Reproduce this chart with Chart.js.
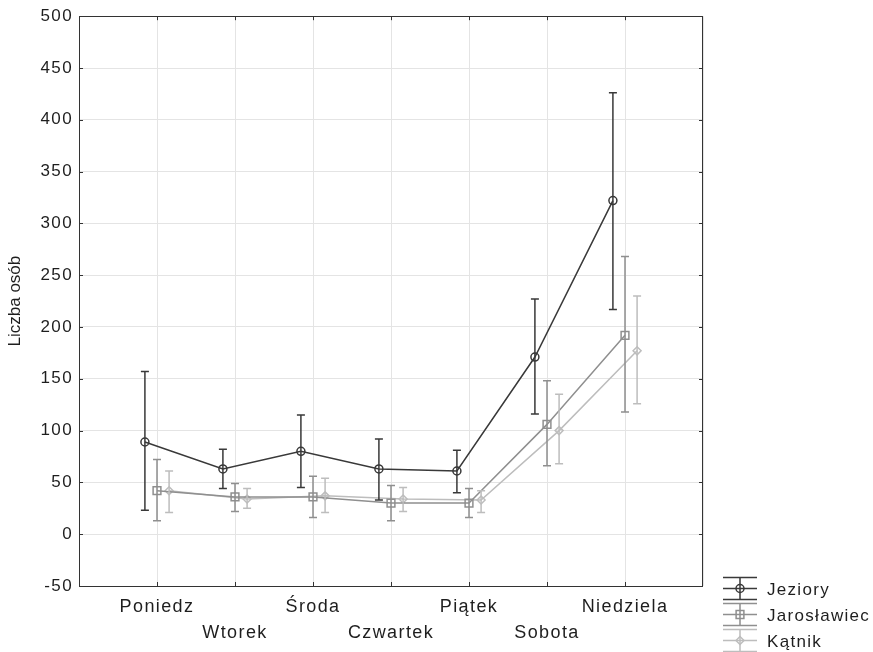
<!DOCTYPE html>
<html><head><meta charset="utf-8">
<script src="https://cdn.jsdelivr.net/npm/chart.js@4/dist/chart.umd.min.js"></script>
<style>html,body{margin:0;padding:0;background:#fff}</style>
</head><body>
<canvas id="c" width="873" height="652"></canvas>
<script>
// ---- data ----
const categories = ['Poniedz', 'Wtorek', 'Środa', 'Czwartek', 'Piątek', 'Sobota', 'Niedziela'];
const seriesNames = ['Jeziory', 'Jarosławiec', 'Kątnik'];

const jeziory      = [89, 63, 80, 63, 61, 171, 322];
const jezioryLow   = [23, 44, 45, 33, 40, 116, 217];
const jezioryHigh  = [157, 82, 115, 92, 81, 227, 426];

const jaroslawiec     = [42, 36, 36, 30, 30, 106, 192];
const jaroslawiecLow  = [13, 22, 16, 13, 16, 66, 118];
const jaroslawiecHigh = [72, 49, 56, 47, 44, 148, 268];

const katnik     = [42, 34, 37, 34, 33, 100, 177];
const katnikLow  = [21, 25, 21, 22, 21, 68, 126];
const katnikHigh = [61, 44, 54, 45, 42, 135, 230];

const yMin = -50, yMax = 500, yStep = 50;

// ---- styling ----
const FONT = "'Liberation Sans', Arial, sans-serif";
const SPACING = '1.4px';
const colors = ['#393939', '#8f8f8f', '#bdbdbd'];
const styles = ['circle', 'rect', 'rectRot'];
const radii = [4, 5.5, 4];
const offsets = [-0.155, 0, 0.155];

function pts(vals, off) { return vals.map((v, i) => ({x: i + 1 + off, y: v})); }

const lows = [jezioryLow, jaroslawiecLow, katnikLow];
const highs = [jezioryHigh, jaroslawiecHigh, katnikHigh];
const vals = [jeziory, jaroslawiec, katnik];

const datasets = vals.map((v, k) => ({
  label: seriesNames[k],
  data: pts(v, offsets[k]),
  errLow: pts(lows[k], offsets[k]),
  errHigh: pts(highs[k], offsets[k]),
  borderColor: colors[k],
  backgroundColor: 'rgba(0,0,0,0)',
  borderWidth: 1.5,
  pointStyle: styles[k],
  pointRadius: radii[k],
  pointBorderWidth: 1.5,
  pointBorderColor: colors[k],
  pointBackgroundColor: 'rgba(0,0,0,0)',
  tension: 0,
  fill: false
}));

const spacingPlugin = {
  id: 'spacing',
  beforeDraw(chart) { chart.ctx.letterSpacing = SPACING; }
};

const errorBars = {
  id: 'errorBars',
  afterDatasetsDraw(chart) {
    const ctx = chart.ctx, xs = chart.scales.x, ys = chart.scales.y;
    ctx.save();
    chart.data.datasets.forEach(ds => {
      ctx.strokeStyle = ds.borderColor;
      ctx.lineWidth = 1.5;
      ds.errLow.forEach((lo, i) => {
        const hi = ds.errHigh[i];
        const px = xs.getPixelForValue(lo.x);
        const y1 = ys.getPixelForValue(lo.y), y2 = ys.getPixelForValue(hi.y);
        ctx.beginPath();
        ctx.moveTo(px, y1); ctx.lineTo(px, y2);
        ctx.moveTo(px - 4, y1); ctx.lineTo(px + 4, y1);
        ctx.moveTo(px - 4, y2); ctx.lineTo(px + 4, y2);
        ctx.stroke();
      });
    });
    ctx.restore();
  }
};

function marker(ctx, style, x, y, r) {
  ctx.beginPath();
  if (style === 'circle') ctx.arc(x, y, r, 0, Math.PI * 2);
  else if (style === 'rect') { const s = r * Math.SQRT1_2; ctx.rect(x - s, y - s, 2 * s, 2 * s); }
  else { ctx.moveTo(x - r, y); ctx.lineTo(x, y - r); ctx.lineTo(x + r, y); ctx.lineTo(x, y + r); ctx.closePath(); }
  ctx.stroke();
}

const frameAndLegend = {
  id: 'frameAndLegend',
  afterDraw(chart) {
    const ctx = chart.ctx, a = chart.chartArea, xs = chart.scales.x, ys = chart.scales.y;
    ctx.save();
    ctx.strokeStyle = '#333';
    ctx.lineWidth = 1;
    ctx.strokeRect(Math.round(a.left) + 0.5, Math.round(a.top) + 0.5, Math.round(a.right - a.left) - 1, Math.round(a.bottom - a.top));
    ctx.beginPath();
    for (let i = 1; i <= categories.length; i++) {
      const px = Math.round(xs.getPixelForValue(i)) + 0.5;
      ctx.moveTo(px, a.bottom); ctx.lineTo(px, a.bottom - 4);
      ctx.moveTo(px, a.top); ctx.lineTo(px, a.top + 4);
    }
    for (let v = yMin; v <= yMax; v += yStep) {
      const py = Math.round(ys.getPixelForValue(v)) + 0.5;
      ctx.moveTo(a.left, py); ctx.lineTo(a.left + 4, py);
      ctx.moveTo(a.right, py); ctx.lineTo(a.right - 4, py);
    }
    ctx.stroke();

    // legend
    const x0 = a.right + 20, x1 = x0 + 34, xc = (x0 + x1) / 2;
    chart.data.datasets.forEach((ds, k) => {
      const cy = a.bottom + 2.5 + k * 26;
      ctx.strokeStyle = ds.borderColor;
      ctx.lineWidth = 1.5;
      ctx.beginPath();
      ctx.moveTo(x0, cy - 11); ctx.lineTo(x1, cy - 11);
      ctx.moveTo(x0, cy); ctx.lineTo(x1, cy);
      ctx.moveTo(x0, cy + 11); ctx.lineTo(x1, cy + 11);
      ctx.moveTo(xc, cy - 11); ctx.lineTo(xc, cy + 11);
      ctx.stroke();
      marker(ctx, styles[k], xc, cy, k === 1 ? 5.5 : 4);
      ctx.fillStyle = '#1e1e1e';
      ctx.font = '17px ' + FONT;
      ctx.letterSpacing = '1.3px';
      ctx.textBaseline = 'middle';
      ctx.textAlign = 'left';
      ctx.fillText(ds.label, x1 + 10, cy + 2);
    });
    ctx.restore();
  }
};

new Chart(document.getElementById('c'), {
  type: 'line',
  data: { datasets },
  plugins: [spacingPlugin, errorBars, frameAndLegend],
  options: {
    responsive: false,
    devicePixelRatio: 1,
    animation: false,
    layout: { padding: { top: 16, right: 170, bottom: 0, left: 0 } },
    plugins: { legend: { display: false }, tooltip: { enabled: false } },
    scales: {
      x: {
        type: 'linear', position: 'bottom', min: 0, max: categories.length + 1,
        afterFit: s => { s.height = 66; },
        grid: { color: '#e4e4e4', drawTicks: false, lineWidth: 1 },
        border: { display: false },
        ticks: {
          stepSize: 1, autoSkip: false, maxRotation: 0, padding: 8, color: '#1e1e1e',
          font: { family: FONT, size: 18, lineHeight: 1.45 },
          callback: v => {
            if (v >= 1 && v <= categories.length && Number.isInteger(v)) {
              const idx = v - 1;
              return idx % 2 === 0 ? [categories[idx], ''] : ['', categories[idx]];
            }
            return '';
          }
        }
      },
      y: {
        min: yMin, max: yMax,
        afterFit: s => {
          s.width = 79;
          if (!s._titlePatched) {
            const orig = s.drawTitle.bind(s);
            s.drawTitle = function () {
              const c = this.ctx, prev = c.letterSpacing;
              c.letterSpacing = '0px';
              orig();
              c.letterSpacing = prev;
            };
            s._titlePatched = true;
          }
        },
        grid: { color: '#e4e4e4', drawTicks: false, lineWidth: 1 },
        border: { display: false },
        ticks: { stepSize: yStep, padding: 6, color: '#1e1e1e', font: { family: FONT, size: 17 } },
        title: { display: true, text: 'Liczba osób', color: '#1e1e1e', font: { family: FONT, size: 17 }, padding: { top: 5, bottom: 0 } }
      }
    }
  }
});
</script>
</body></html>
